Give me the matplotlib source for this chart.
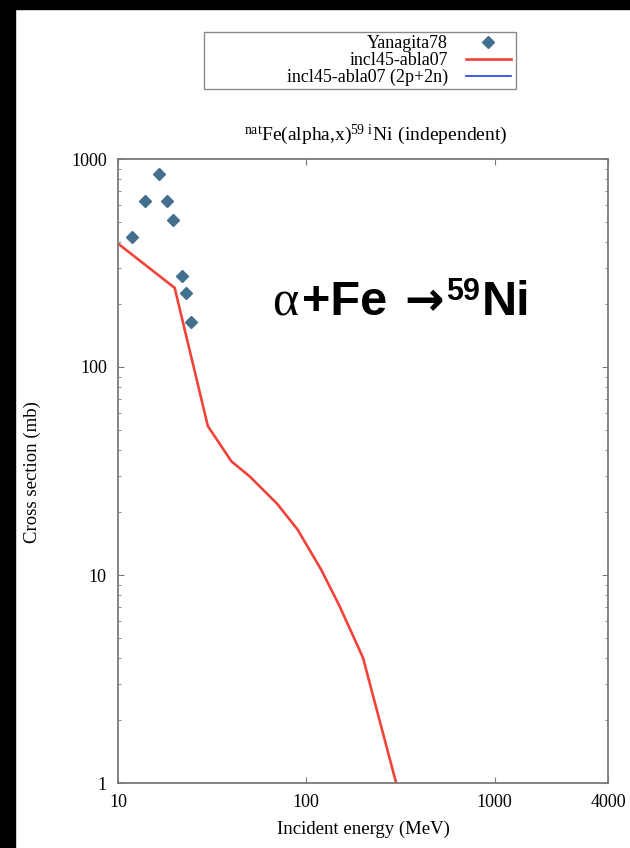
import matplotlib
matplotlib.use("Agg")
import matplotlib.pyplot as plt
from matplotlib.patches import Rectangle
from matplotlib.ticker import FixedLocator, NullLocator, NullFormatter

plt.rcParams['font.family'] = ['Liberation Serif', 'DejaVu Serif']
plt.rcParams['mathtext.fontset'] = 'custom'
plt.rcParams['mathtext.rm'] = 'Liberation Serif'

# Yanagita78 measurements (MeV, mb)
exp_energy = [11.8, 13.9, 16.5, 18.1, 19.6, 21.8, 23.1, 24.3]
exp_xs = [422, 625, 846, 625, 508, 274, 228, 164]

# incl45-abla07 calculation
calc_energy = [10, 20, 30, 40, 50, 70, 90, 120, 150, 200, 300]
calc_xs = [392, 240, 52, 35.2, 29.8, 22.0, 16.5, 10.6, 7.1, 4.0, 1.0]

# incl45-abla07 (2p+2n) -- no points visible in range
calc2_energy = []
calc2_xs = []

x_ticks = [10, 100, 1000, 4000]
y_ticks = [1, 10, 100, 1000]

W, H = 630, 848
fig = plt.figure(figsize=(W / 100, H / 100), dpi=100)
ax = fig.add_axes([118 / W, 1 - 783 / H, 490 / W, 624 / H])

ax.plot(exp_energy, exp_xs, linestyle='none', marker='D', markersize=6.5,
        color='#44708f', label='Yanagita78', zorder=3)
ax.plot(calc_energy, calc_xs, color='#f2433a', linewidth=1.9,
        label='incl45-abla07')
ax.plot(calc2_energy, calc2_xs, color='#2040e8', linewidth=1.2,
        label='incl45-abla07 (2p+2n)')

ax.set_xscale('log')
ax.set_yscale('log')
ax.set_xlim(10, 4000)
ax.set_ylim(1, 1000)

ax.xaxis.set_major_locator(FixedLocator(x_ticks))
ax.set_xticklabels([str(v) for v in x_ticks])
ax.xaxis.set_minor_locator(NullLocator())
ax.yaxis.set_major_locator(FixedLocator(y_ticks))
ax.set_yticklabels([str(v) for v in y_ticks])
ax.yaxis.set_minor_formatter(NullFormatter())

for s in ax.spines.values():
    s.set_color('#7a7a7a')
    s.set_linewidth(1.3)
ax.tick_params(which='both', direction='in', top=True, right=True,
               color='#7a7a7a', labelsize=13)
ax.tick_params(which='major', length=4.5, width=0.8)
ax.tick_params(which='minor', length=2.5, width=0.6)
ax.tick_params(axis='x', pad=8)
ax.tick_params(axis='y', pad=8)

ax.set_xlabel('Incident energy (MeV)', fontsize=13.5, labelpad=7)
fig.text(32 / W, 1 - 472 / H, 'Cross section (mb)', rotation=90,
         ha='center', va='center', fontsize=13.5)

fig.text(376 / W, 1 - 140 / H,
         r'$\mathregular{^{nat}Fe(alpha{,}x)^{59\ i}Ni\ (independent)}$',
         ha='center', va='baseline', fontsize=14)

# gnuplot-style key: right-aligned labels, samples on the right
leg = ax.legend(loc='upper right', bbox_to_anchor=(511 / W, 1 - 35 / H),
                bbox_transform=fig.transFigure, markerfirst=False,
                prop={'family': 'Liberation Serif', 'size': 13},
                frameon=False, numpoints=1,
                handlelength=2.5, handletextpad=1.0, labelspacing=0.0,
                borderpad=0, borderaxespad=0)
fig.patches.append(Rectangle((204 / W, 1 - 89 / H), 312 / W, 57 / H,
                             transform=fig.transFigure, fill=False,
                             edgecolor='#8a8a8a', linewidth=1.0))

# reaction annotation
sans_bold = dict(family=['Liberation Sans', 'DejaVu Sans'], fontweight='bold')
pieces = [
    (272, 315, 'α', dict(family=['Liberation Serif', 'DejaVu Serif'], fontsize=36)),
    (302, 315, '+Fe', dict(fontsize=35, **sans_bold)),
    (404, 315, '→', dict(family=['DejaVu Sans'], fontweight='bold', fontsize=34)),
    (446, 300, '59', dict(fontsize=22, **sans_bold)),
    (482, 315, 'Ni', dict(fontsize=35, **sans_bold)),
]
for px, py, txt, kw in pieces:
    fig.text(px / W, 1 - py / H, txt, ha='left', va='baseline',
             color='black', **kw)

fig.patches.append(Rectangle((0, 1 - 9 / H), 1, 9 / H, transform=fig.transFigure,
                             color='black', zorder=10))
fig.patches.append(Rectangle((0, 0), 15 / W, 1, transform=fig.transFigure,
                             color='black', zorder=10))

fig.savefig('out.png', dpi=100)
